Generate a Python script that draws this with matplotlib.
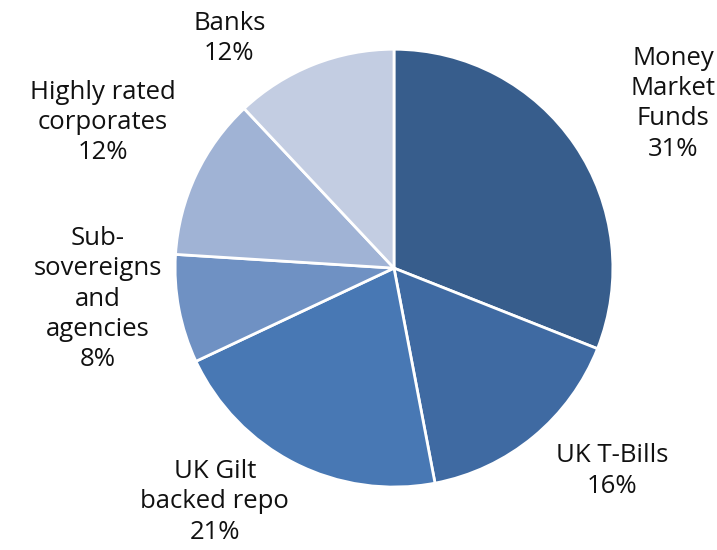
import matplotlib
matplotlib.use("Agg")
import matplotlib.pyplot as plt
import numpy as np

categories = ["Money\nMarket\nFunds", "UK T-Bills", "UK Gilt\nbacked repo",
              "Sub-\nsovereigns\nand\nagencies", "Highly rated\ncorporates", "Banks"]
shares = [31, 16, 21, 8, 12, 12]
colours = ["#375d8c", "#3f6aa2", "#4878b4", "#6f91c3", "#a0b3d5", "#c3cde2"]

# label placement: (distance in radii, angle in degrees)
label_pos = [(1.48, 30.5), (1.36, -43), (1.345, -127.5), (1.36, -174), (1.486, 153.4), (1.29, 125.7)]

plt.rcParams['font.family'] = ['Open Sans', 'DejaVu Sans']

fig = plt.figure(figsize=(7.17, 5.5), dpi=100)
ax = fig.add_axes([0.244, 0.1145, 0.611, 0.796])

wedges, _ = ax.pie(shares, colors=colours, startangle=90, counterclock=False,
                   radius=1.0, wedgeprops=dict(edgecolor="white", linewidth=2))

for name, val, (d, a) in zip(categories, shares, label_pos):
    x = d * np.cos(np.radians(a))
    y = d * np.sin(np.radians(a))
    ax.text(x, y, f"{name}\n{val}%", ha="center", va="center",
            fontsize=18.5, linespacing=1.28, color="#111111")

ax.set_xlim(-1, 1)
ax.set_ylim(-1, 1)
ax.set_aspect("equal")
ax.axis("off")

fig.savefig("out.png", dpi=100)
